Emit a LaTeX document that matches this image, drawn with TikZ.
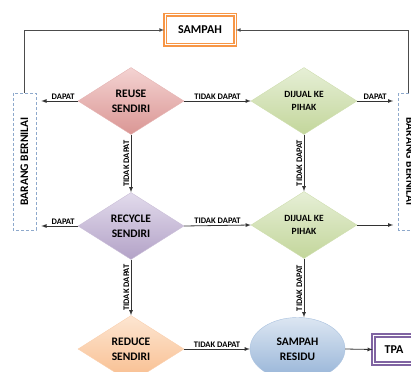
\documentclass[tikz,border=0pt]{standalone}
\usepackage{fontspec}
\setmainfont{Carlito}
\usetikzlibrary{shapes.geometric}

\definecolor{pinkA}{HTML}{F4D3D2}
\definecolor{pinkB}{HTML}{DA9694}
\definecolor{ungA}{HTML}{E2DBEC}
\definecolor{ungB}{HTML}{B3A2C7}
\definecolor{hijauA}{HTML}{E6EFD6}
\definecolor{hijauB}{HTML}{C3D69B}
\definecolor{jinggaA}{HTML}{FDE6D2}
\definecolor{jinggaB}{HTML}{F8BC8C}
\definecolor{biruA}{HTML}{DCE6F2}
\definecolor{biruB}{HTML}{95B3D7}
\definecolor{garis}{HTML}{8EA9CC}
\definecolor{oren}{HTML}{F79646}
\definecolor{ungu}{HTML}{8064A2}

\begin{document}
\begin{tikzpicture}[
    x=1pt, y=-1pt,
    >=latex,
    panah/.style={->, line width=0.8pt, draw=black!80},
    pilih/.style={diamond, aspect=1.6, minimum width=106pt, minimum height=67pt,
        inner sep=0pt, align=center, font=\fontsize{11.5}{15}\selectfont\bfseries},
    jual/.style={pilih, font=\fontsize{9.5}{13}\selectfont\bfseries},
    bernilai/.style={draw=garis, dash pattern=on 3pt off 2pt, line width=0.6pt,
        minimum width=137pt, minimum height=23pt, inner sep=0pt,
        font=\fontsize{11.5}{13}\selectfont\bfseries},
    ujung/.style={double=white, line width=1.6pt, double distance=1pt,
        inner sep=0pt, font=\fontsize{12}{14}\selectfont\bfseries},
    ket/.style={font=\fontsize{8.5}{10}\selectfont\bfseries, inner sep=1.5pt},
    kembali/.style={->, line width=0.7pt, draw=black!70}
]
\useasboundingbox (0,0) rectangle (411,371);
\clip (0,0) rectangle (411,371);

\node[ujung, draw=oren, minimum width=70pt, minimum height=30pt] (sampah) at (200,30) {SAMPAH};

\node[pilih, draw=pinkB!70, top color=pinkA, bottom color=pinkB] (reuse) at (131,101) {REUSE\\SENDIRI};
\node[jual, draw=hijauB!80, top color=hijauA, bottom color=hijauB] (jual1) at (304,101) {DIJUAL KE\\PIHAK};
\node[pilih, draw=ungB!70, top color=ungA, bottom color=ungB] (recycle) at (131,226) {RECYCLE\\SENDIRI};
\node[jual, draw=hijauB!80, top color=hijauA, bottom color=hijauB] (jual2) at (304,225) {DIJUAL KE\\PIHAK};
\node[pilih, draw=jinggaB!70, top color=jinggaA, bottom color=jinggaB] (reduce) at (131,349) {REDUCE\\SENDIRI};
\node[ellipse, draw=biruB!80, top color=biruA, bottom color=biruB, minimum width=95pt,
    minimum height=63pt, inner sep=0pt, align=center,
    font=\fontsize{11.5}{15}\selectfont\bfseries] (residu) at (297.5,349) {SAMPAH\\RESIDU};
\node[ujung, draw=ungu, minimum width=41pt, minimum height=28pt] (tpa) at (394,349.5) {TPA};

\node[bernilai, rotate=90] (kiri) at (24.5,161.5) {BARANG BERNILAI};
\node[bernilai, rotate=-90] (kanan) at (410,161.5) {BARANG BERNILAI};

\draw[panah] (reuse.west) -- node[ket, above, pos=0.4] {DAPAT} ([xshift=5pt]reuse.west -| kiri.south);
\draw[panah] (reuse.east) -- node[ket, above] {TIDAK DAPAT} (jual1.west);
\draw[panah] (jual1.east) -- node[ket, above] {DAPAT} ([xshift=-5pt]jual1.east -| kanan.south);
\draw[panah] (reuse.south) -- node[ket, rotate=90, anchor=south] {TIDAK DAPAT} (recycle.north);
\draw[panah] (jual1.south) -- node[ket, rotate=90, anchor=south] {TIDAK DAPAT} (jual2.north);
\draw[panah] (recycle.west) -- node[ket, above, pos=0.4] {DAPAT} ([xshift=5pt]recycle.west -| kiri.south);
\draw[panah] (recycle.east) -- node[ket, above] {TIDAK DAPAT} (jual2.west);
\draw[panah] (jual2.east) -- ([xshift=-5pt]jual2.east -| kanan.south);
\draw[panah] (recycle.south) -- node[ket, rotate=90, anchor=south] {TIDAK DAPAT} (reduce.north);
\draw[panah] (jual2.south) -- node[ket, rotate=90, anchor=south] {TIDAK DAPAT} (jual2.south |- residu.north);
\draw[panah] (reduce.east) -- node[ket, above] {TIDAK DAPAT} (residu.west);
\draw[panah] (residu.east) -- (tpa.west);

\draw[kembali] (kiri.east) |- (sampah.west);
\draw[kembali] ([xshift=-1.5pt]kanan.west) |- (sampah.east);
\end{tikzpicture}
\end{document}
